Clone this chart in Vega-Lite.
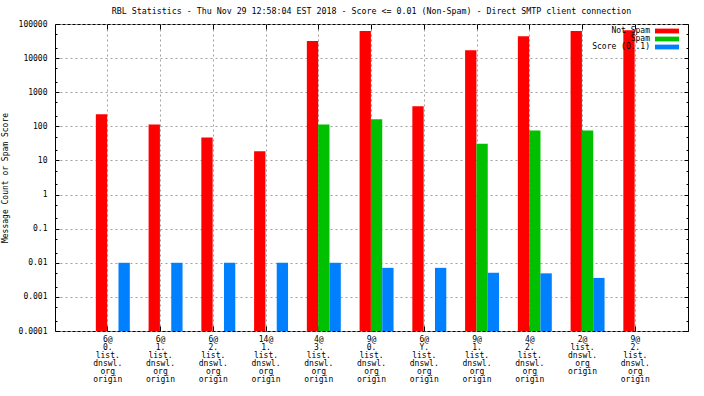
{
  "$schema": "https://vega.github.io/schema/vega-lite/v6.json",
  "width": 633,
  "height": 307,
  "autosize": {"type": "none"},
  "padding": {"left": 55, "top": 24, "right": 16, "bottom": 65},
  "background": "white",
  "config": {
    "font": "DejaVu Sans Mono",
    "view": {"stroke": "black", "strokeWidth": 1},
    "axis": {"labelColor": "black", "titleColor": "black", "labelFontSize": 8, "titleFontSize": 8, "titleFontWeight": "normal", "labelFont": "DejaVu Sans Mono", "titleFont": "DejaVu Sans Mono"}
  },
  "title": {"text": "RBL Statistics - Thu Nov 29 12:58:04 EST 2018 - Score <= 0.01 (Non-Spam) - Direct SMTP client connection", "fontSize": 8.3, "fontWeight": "normal", "font": "DejaVu Sans Mono", "offset": 5, "anchor": "middle", "color": "black"},
  "data": {"values": [
    {"host": "6@ 0. list. dnswl. org origin", "series": "Not Spam", "value": 225},
    {"host": "6@ 0. list. dnswl. org origin", "series": "Score (0..1)", "value": 0.01},
    {"host": "6@ 1. list. dnswl. org origin", "series": "Not Spam", "value": 114},
    {"host": "6@ 1. list. dnswl. org origin", "series": "Score (0..1)", "value": 0.01},
    {"host": "6@ 2. list. dnswl. org origin", "series": "Not Spam", "value": 47},
    {"host": "6@ 2. list. dnswl. org origin", "series": "Score (0..1)", "value": 0.01},
    {"host": "14@ 1. list. dnswl. org origin", "series": "Not Spam", "value": 18.5},
    {"host": "14@ 1. list. dnswl. org origin", "series": "Score (0..1)", "value": 0.01},
    {"host": "4@ 3. list. dnswl. org origin", "series": "Not Spam", "value": 31600},
    {"host": "4@ 3. list. dnswl. org origin", "series": "Spam", "value": 114},
    {"host": "4@ 3. list. dnswl. org origin", "series": "Score (0..1)", "value": 0.01},
    {"host": "9@ 0. list. dnswl. org origin", "series": "Not Spam", "value": 62000},
    {"host": "9@ 0. list. dnswl. org origin", "series": "Spam", "value": 160},
    {"host": "9@ 0. list. dnswl. org origin", "series": "Score (0..1)", "value": 0.0071},
    {"host": "6@ Y. list. dnswl. org origin", "series": "Not Spam", "value": 387},
    {"host": "6@ Y. list. dnswl. org origin", "series": "Score (0..1)", "value": 0.0071},
    {"host": "9@ 1. list. dnswl. org origin", "series": "Not Spam", "value": 17100},
    {"host": "9@ 1. list. dnswl. org origin", "series": "Spam", "value": 31},
    {"host": "9@ 1. list. dnswl. org origin", "series": "Score (0..1)", "value": 0.0051},
    {"host": "4@ 2. list. dnswl. org origin", "series": "Not Spam", "value": 44000},
    {"host": "4@ 2. list. dnswl. org origin", "series": "Spam", "value": 76},
    {"host": "4@ 2. list. dnswl. org origin", "series": "Score (0..1)", "value": 0.0049},
    {"host": "2@ list. dnswl. org origin", "series": "Not Spam", "value": 62000},
    {"host": "2@ list. dnswl. org origin", "series": "Spam", "value": 76},
    {"host": "2@ list. dnswl. org origin", "series": "Score (0..1)", "value": 0.0036},
    {"host": "9@ 2. list. dnswl. org origin", "series": "Not Spam", "value": 66000}
  ]},
  "encoding": {
    "x": {"field": "host", "type": "nominal", "sort": null, "scale": {"paddingInner": 0, "paddingOuter": 0.5}},
    "xOffset": {
      "field": "series", "type": "nominal",
      "scale": {"domain": ["Not Spam", "Spam", "Score (0..1)"], "paddingInner": 0, "paddingOuter": 0.83, "align": 0.77}
    },
    "y": {"field": "value", "type": "quantitative", "scale": {"type": "log", "domain": [0.0001, 100000], "nice": false}},
    "y2": {"datum": 0.0001}
  },
  "layer": [
    {
      "mark": {"type": "bar", "clip": true},
      "encoding": {
        "x": {
          "field": "host", "type": "nominal", "sort": null,
          "axis": {"title": null, "orient": "bottom", "labelAngle": 0, "labelExpr": "split(datum.value, ' ')", "labelLineHeight": 8, "labelPadding": 9, "labelBaseline": "line-top", "grid": true, "gridDash": [2, 3], "gridColor": "#a0a0a0", "gridOpacity": 1, "bandPosition": 0.5, "tickSize": -5, "tickColor": "black", "domain": false}
        },
        "y": {
          "field": "value", "type": "quantitative",
          "axis": {"title": "Message Count or Spam Score", "orient": "left", "titlePadding": 9,
            "values": [0.0001, 0.0002, 0.0005, 0.001, 0.002, 0.005, 0.01, 0.02, 0.05, 0.1, 0.2, 0.5, 1, 2, 5, 10, 20, 50, 100, 200, 500, 1000, 2000, 5000, 10000, 20000, 50000, 100000],
            "labelExpr": "abs(log(datum.value)/LN10 - round(log(datum.value)/LN10)) < 0.01 ? format(datum.value, '~g') : ''",
            "grid": true, "gridDash": [2, 3], "gridColor": "#a0a0a0",
            "gridOpacity": {"condition": {"test": "abs(log(datum.value)/LN10 - round(log(datum.value)/LN10)) < 0.01", "value": 1}, "value": 0},
            "tickSize": {"condition": {"test": "abs(log(datum.value)/LN10 - round(log(datum.value)/LN10)) < 0.01", "value": -4}, "value": -2},
            "tickColor": "black", "labelPadding": 12, "domain": false}
        },
        "color": {
          "field": "series", "type": "nominal",
          "scale": {"domain": ["Not Spam", "Spam", "Score (0..1)"], "range": ["#ff0000", "#00c000", "#0080ff"]},
          "legend": {"title": null, "orient": "none", "legendX": 608, "legendY": 3, "symbolType": "M-3,-0.6H3V0.6H-3Z", "symbolSize": 64, "symbolStrokeWidth": 0, "symbolOpacity": 1, "labelAlign": "right", "labelOffset": -21, "labelFontSize": 8, "labelFont": "DejaVu Sans Mono", "labelColor": "black", "rowPadding": 0, "padding": 0}
        }
      }
    },
    {
      "mark": {"type": "bar", "opacity": 0},
      "encoding": {
        "x": {
          "field": "host", "type": "nominal", "sort": null,
          "axis": {"title": null, "orient": "top", "labels": false, "grid": false, "bandPosition": 0.5, "tickSize": -5, "tickColor": "black", "domain": false}
        },
        "y": {
          "field": "value", "type": "quantitative",
          "axis": {"title": null, "orient": "right", "labels": false, "grid": false,
            "values": [0.0001, 0.0002, 0.0005, 0.001, 0.002, 0.005, 0.01, 0.02, 0.05, 0.1, 0.2, 0.5, 1, 2, 5, 10, 20, 50, 100, 200, 500, 1000, 2000, 5000, 10000, 20000, 50000, 100000],
            "tickSize": {"condition": {"test": "abs(log(datum.value)/LN10 - round(log(datum.value)/LN10)) < 0.01", "value": -4}, "value": -2},
            "tickColor": "black", "domain": false}
        }
      }
    }
  ],
  "resolve": {"axis": {"x": "independent", "y": "independent"}}
}
